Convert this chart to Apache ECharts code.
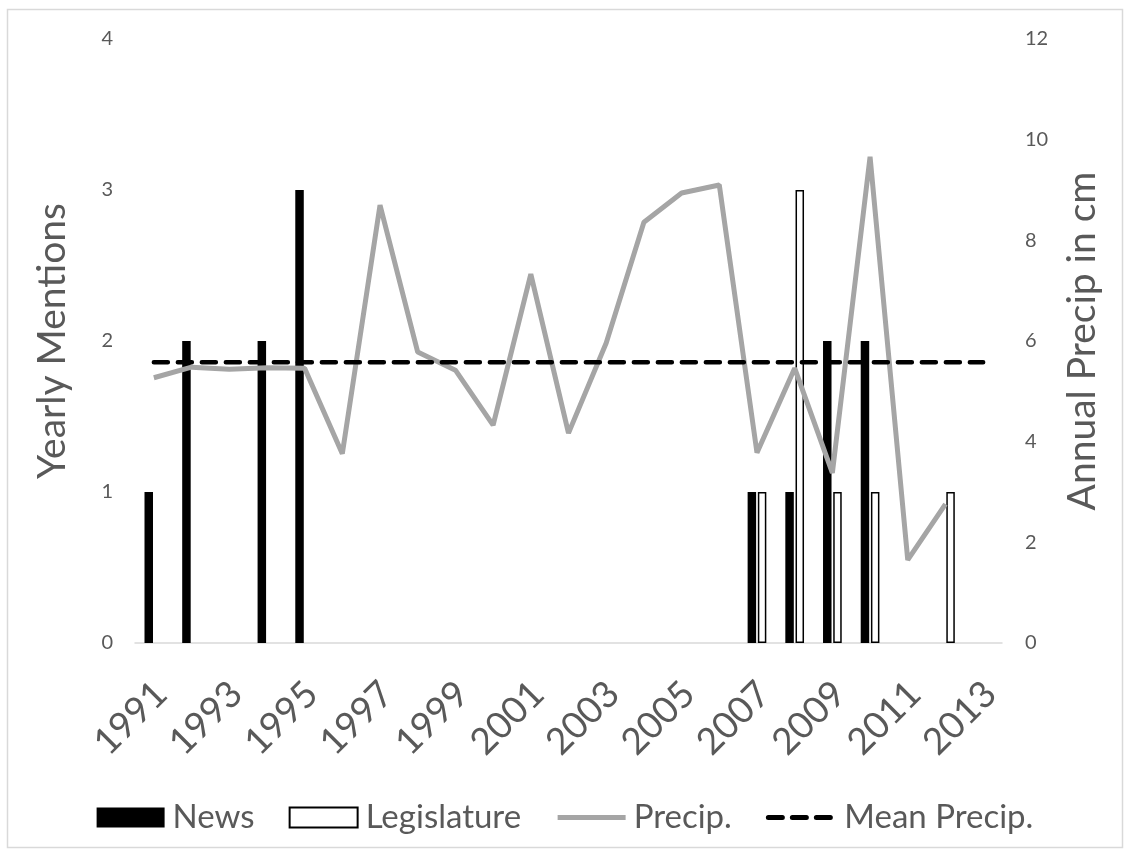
<!DOCTYPE html>
<html>
<head>
<meta charset="utf-8">
<script src="https://cdn.jsdelivr.net/npm/echarts@6/dist/echarts.min.js"></script>
<style>
html,body{margin:0;padding:0;background:#fff;}
#chart{width:1130px;height:856px;}
</style>
</head>
<body>
<div id="chart"></div>
<script>
const years = ['1991','1992','1993','1994','1995','1996','1997','1998','1999','2000','2001','2002','2003','2004','2005','2006','2007','2008','2009','2010','2011','2012','2013'];
const news = [1,2,null,2,3,null,null,null,null,null,null,null,null,null,null,null,1,1,2,2,null,null,null];
const legislature = [null,null,null,null,null,null,null,null,null,null,null,null,null,null,null,null,1,3,1,1,null,1,null];
const precip = [5.27,5.48,5.44,5.47,5.46,3.76,8.70,5.78,5.42,4.33,7.33,4.17,5.96,8.36,8.94,9.10,3.78,5.46,3.38,9.66,1.65,2.76,null];
const meanPrecip = [5.58,5.58,5.58,5.58,5.58,5.58,5.58,5.58,5.58,5.58,5.58,5.58,5.58,5.58,5.58,5.58,5.58,5.58,5.58,5.58,5.58,5.58,5.58];
const leftTicks = {min:0, max:4, interval:1};
const rightTicks = {min:0, max:12, interval:2};

const FONT = 'Lato';
const GREY_TEXT = '#595959';
const chart = echarts.init(document.getElementById('chart'), null, {renderer:'canvas'});
chart.setOption({
  animation:false,
  backgroundColor:'#fff',
  textStyle:{fontFamily:FONT},
  graphic:[{type:'rect', shape:{x:7.5,y:9.5,width:1115,height:838}, style:{fill:'none',stroke:'#d9d9d9',lineWidth:1.5}, silent:true, z:-1}],
  grid:{left:135, right:128, top:39, bottom:213, containLabel:false},
  legend:{
    top:796, left:'center',
    itemWidth:68, itemHeight:20, itemGap:34,
    textStyle:{fontFamily:FONT, fontSize:33, color:GREY_TEXT, padding:[0,0,0,3]},
    data:[
      {name:'News', icon:'rect'},
      {name:'Legislature', icon:'rect'},
      {name:'Precip.', itemStyle:{opacity:0}, lineStyle:{width:5}},
      {name:'Mean Precip.', itemStyle:{opacity:0}, lineStyle:{width:5}}
    ]
  },
  xAxis:{
    type:'category', data:years,
    axisTick:{show:false},
    axisLine:{lineStyle:{color:'#d9d9d9', width:1.5}},
    axisLabel:{interval:1, rotate:45, fontSize:37, color:GREY_TEXT, margin:52, padding:[0,-10,0,0], fontFamily:FONT}
  },
  yAxis:[
    {type:'value', min:leftTicks.min, max:leftTicks.max, interval:leftTicks.interval,
     name:'Yearly Mentions', nameLocation:'middle', nameGap:63,
     nameTextStyle:{fontSize:39, color:GREY_TEXT, fontFamily:FONT},
     axisLine:{show:false}, axisTick:{show:false}, splitLine:{show:false},
     axisLabel:{fontSize:20, color:GREY_TEXT, margin:22}},
    {type:'value', min:rightTicks.min, max:rightTicks.max, interval:rightTicks.interval,
     name:'Annual Precip in cm', nameLocation:'middle', nameGap:61,
     nameTextStyle:{fontSize:39, color:GREY_TEXT, fontFamily:FONT},
     axisLine:{show:false}, axisTick:{show:false}, splitLine:{show:false},
     axisLabel:{fontSize:20, color:GREY_TEXT, margin:23}}
  ],
  series:[
    {name:'News', type:'bar', yAxisIndex:0, data:news, barWidth:8.5, barGap:'20%',
     itemStyle:{color:'#000000'}},
    {name:'Legislature', type:'bar', yAxisIndex:0, data:legislature, barWidth:8.5,
     itemStyle:{color:'#ffffff', borderColor:'#000000', borderWidth:1.5}},
    {name:'Precip.', type:'line', yAxisIndex:1, data:precip, symbol:'none',
     lineStyle:{color:'#a5a5a5', width:5}, itemStyle:{color:'#a5a5a5'}, z:3},
    {name:'Mean Precip.', type:'line', yAxisIndex:1, data:meanPrecip, symbol:'none',
     lineStyle:{color:'#000000', width:4.5, type:[14,10], cap:'round'}, itemStyle:{color:'#000000'}, z:4}
  ]
});
</script>
</body>
</html>
